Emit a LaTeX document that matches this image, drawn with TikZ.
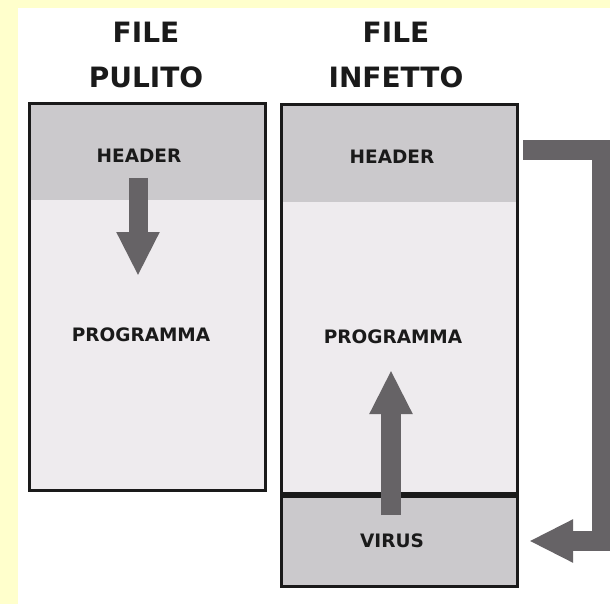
\documentclass[tikz,border=0pt]{standalone}
\usepackage{fontspec}
\setmainfont{DejaVu Sans}
\usetikzlibrary{arrows.meta}

\definecolor{paper}{HTML}{FFFFCC}
\definecolor{headgray}{HTML}{CBC9CC}
\definecolor{proggray}{HTML}{EEEBEE}
\definecolor{arrowgray}{HTML}{666366}
\definecolor{ink}{HTML}{1A1A1A}

\tikzset{
  sect/.style={draw=ink, line width=3pt},
  lbl/.style={inner sep=0pt, text=ink, font=\fontsize{18.5}{20}\selectfont\bfseries},
  title/.style={inner sep=0pt, text=ink, align=center, font=\fontsize{28}{45}\selectfont\bfseries},
  blockarrow/.style={draw=arrowgray, line width=#1, line join=miter,
    -{Triangle[width=40pt,length=44pt]}},
  blockarrow/.default=20pt
}

\begin{document}
\begin{tikzpicture}[x=1pt,y=-1pt]
\useasboundingbox (0,0) rectangle (610,604);
\clip (0,0) rectangle (610,604);
\fill[paper] (0,0) rectangle (610,604);
\fill[white] (18,8) rectangle (612,606);

% file pulito
\fill[proggray] (29,104) rectangle (265,490);
\fill[headgray] (29,104) rectangle (265,200);
\draw[sect] (29,104) rectangle (265,490);

% file infetto
\fill[proggray] (281,105) rectangle (517,493);
\fill[headgray] (281,105) rectangle (517,202);
\draw[sect] (281,105) rectangle (517,493);
\fill[headgray] (281,496) rectangle (517,586);
\draw[sect] (281,496) rectangle (517,586);

% titles
\node[title] (titleL) at (146,55) {FILE\\PULITO};
\node[title] (titleR) at (396,55) {FILE\\INFETTO};

% labels
\node[lbl] (hdrL) at (139,156) {HEADER};
\node[lbl] (progL) at (141,335) {PROGRAMMA};
\node[lbl] (hdrR) at (392,157) {HEADER};
\node[lbl] (progR) at (393,337) {PROGRAMMA};
\node[lbl] (virus) at (392,541) {VIRUS};

% arrow ends
\coordinate (dnA) at (138,178);
\coordinate (dnB) at (138,276);
\coordinate (upA) at (391,515);
\coordinate (upB) at (391,370);
\coordinate (jmpA) at (523,150);
\coordinate (jmpB) at (602,150);
\coordinate (jmpC) at (602,541);
\coordinate (jmpD) at (529,541);

\draw[blockarrow=19pt] (dnA) -- (dnB);
\draw[blockarrow] (upA) -- (upB);
\draw[blockarrow] (jmpA) -- (jmpB) -- (jmpC) -- (jmpD);
\end{tikzpicture}
\end{document}
